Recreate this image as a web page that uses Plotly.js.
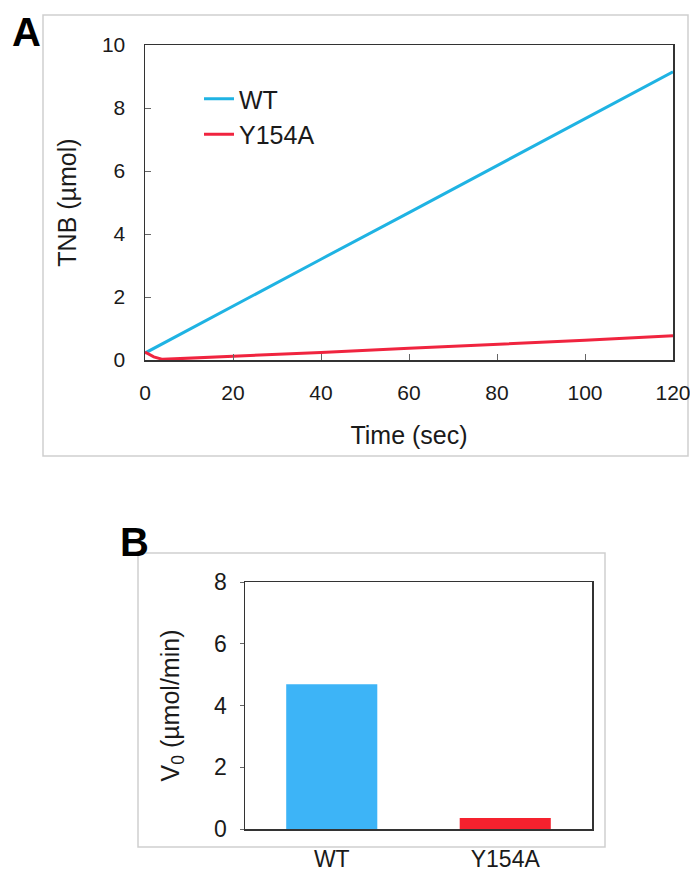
<!DOCTYPE html>
<html>
<head>
<meta charset="utf-8">
<script src="https://cdn.plot.ly/plotly-3.0.1.min.js"></script>
<style>html,body{margin:0;padding:0;background:#fff;}#chart{width:690px;height:872px;}</style>
</head>
<body>
<div id="chart"></div>
<script>
// Panel A: TNB production over time
const timeWT = [0, 20, 40, 60, 80, 100, 120];
const tnbWT = [0.22, 1.72, 3.2, 4.68, 6.17, 7.66, 9.15];
const timeMut = [0, 2, 4, 20, 40, 60, 80, 100, 120];
const tnbMut = [0.25, 0.1, 0.02, 0.11, 0.24, 0.37, 0.49, 0.63, 0.77];
const seriesNames = ['WT', 'Y154A'];
const xTicksA = [0, 20, 40, 60, 80, 100, 120];
const yTicksA = [0, 2, 4, 6, 8, 10];
// Panel B: initial velocity
const strains = ['WT', 'Y154A'];
const v0 = [4.69, 0.36];
const yTicksB = [0, 2, 4, 6, 8];

const W = 690, H = 872;
const px = v => v / W;
const py = v => 1 - v / H;
const FONT = 'Liberation Sans, Arial, Helvetica, sans-serif';
const lineCol = '#333333';

const traces = [
  {x: timeWT, y: tnbWT, name: seriesNames[0], type: 'scatter', mode: 'lines',
   line: {color: '#1fb3e3', width: 3}, xaxis: 'x', yaxis: 'y'},
  {x: timeMut, y: tnbMut, name: seriesNames[1], type: 'scatter', mode: 'lines',
   line: {color: '#f0243f', width: 3}, xaxis: 'x', yaxis: 'y'},
  {x: strains, y: v0, type: 'bar', showlegend: false,
   marker: {color: ['#3db4f7', '#f5212e']}, xaxis: 'x2', yaxis: 'y2'}
];

const layout = {
  width: W, height: H,
  margin: {l: 0, r: 0, t: 0, b: 0},
  paper_bgcolor: '#fff', plot_bgcolor: '#fff',
  font: {family: FONT, color: '#1a1a1a'},
  showlegend: true,
  legend: {x: px(199), y: py(76), xanchor: 'left', yanchor: 'top',
           bgcolor: 'rgba(0,0,0,0)', font: {size: 25, family: FONT, color: '#1a1a1a'}},
  bargap: 0.475,
  xaxis: {
    domain: [px(145), px(673)], anchor: 'y', range: [0, 120], tickvals: xTicksA,
    ticks: 'inside', ticklen: 6, tickcolor: '#666', showline: true, mirror: true,
    linecolor: lineCol, linewidth: 1.5, showgrid: false, zeroline: false,
    tickfont: {size: 21}, ticklabelstandoff: 13, ticklabeloverflow: 'allow',
    title: {text: 'Time (sec)', font: {size: 25}, standoff: 24}
  },
  yaxis: {
    domain: [py(360), py(45)], anchor: 'x', range: [0, 10], tickvals: yTicksA,
    ticks: 'inside', ticklen: 6, tickcolor: '#666', showline: true, mirror: true,
    linecolor: lineCol, linewidth: 1.5, showgrid: false, zeroline: false,
    tickfont: {size: 21}, ticklabelstandoff: 14, ticklabeloverflow: 'allow',
    title: {text: 'TNB (µmol)', font: {size: 25}, standoff: 18}
  },
  xaxis2: {
    domain: [px(245), px(592)], anchor: 'y2', type: 'category',
    ticks: '', showline: true, mirror: true, linecolor: lineCol, linewidth: 1.5,
    showgrid: false, zeroline: false, tickfont: {size: 23}, ticklabelstandoff: 9,
    ticklabeloverflow: 'allow'
  },
  yaxis2: {
    domain: [py(829), py(582)], anchor: 'x2', range: [0, 8], tickvals: yTicksB,
    ticks: 'outside', ticklen: 4, tickcolor: '#666', showline: true, mirror: true,
    linecolor: lineCol, linewidth: 1.5, showgrid: false, zeroline: false,
    tickfont: {size: 23}, ticklabelstandoff: 8,
    title: {text: 'V<sub>0</sub> (µmol/min)', font: {size: 25}, standoff: 27}
  },
  shapes: [
    {type: 'rect', xref: 'paper', yref: 'paper', layer: 'below',
     x0: px(43), x1: px(688), y0: py(456), y1: py(15), line: {color: '#cfcfcf', width: 1.5}},
    {type: 'rect', xref: 'paper', yref: 'paper', layer: 'below',
     x0: px(138), x1: px(605), y0: py(847), y1: py(553), line: {color: '#cfcfcf', width: 1.5}}
  ],
  annotations: [
    {text: '<b>A</b>', xref: 'paper', yref: 'paper', x: px(26), y: py(32),
     xanchor: 'center', yanchor: 'middle', showarrow: false, font: {size: 40, color: '#000'}},
    {text: '<b>B</b>', xref: 'paper', yref: 'paper', x: px(134.5), y: py(542),
     xanchor: 'center', yanchor: 'middle', showarrow: false, font: {size: 40, color: '#000'}}
  ]
};

Plotly.newPlot('chart', traces, layout, {displayModeBar: false, staticPlot: true});
</script>
</body>
</html>
